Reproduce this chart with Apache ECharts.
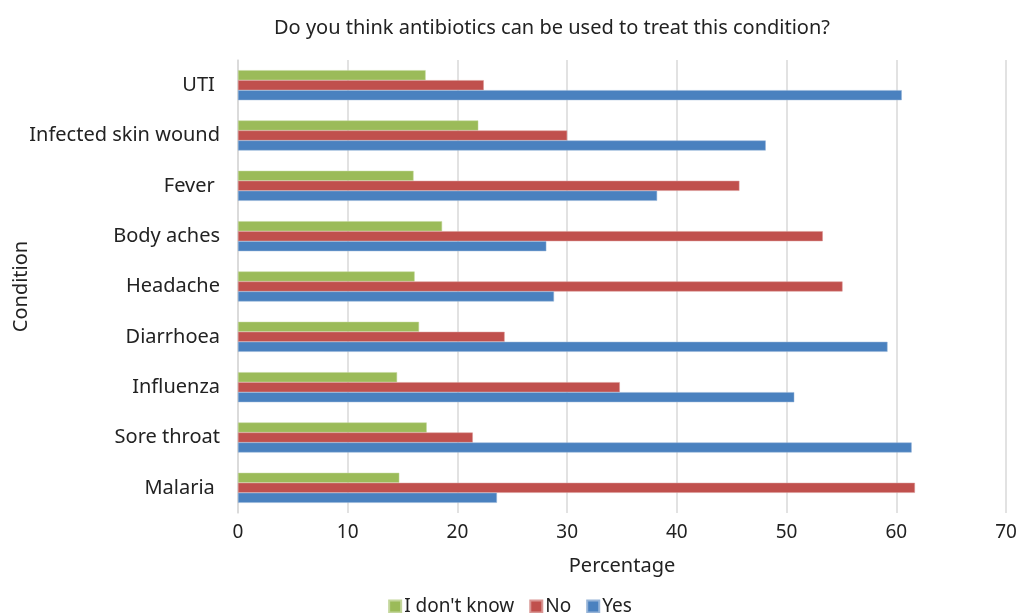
<!DOCTYPE html>
<html>
<head>
<meta charset="utf-8">
<script src="https://cdn.jsdelivr.net/npm/echarts@6/dist/echarts.min.js"></script>
<style>
html,body{margin:0;padding:0;background:#fff;}
#chart{width:1020px;height:613px;}
</style>
</head>
<body>
<div id="chart"></div>
<script>
// Categories listed bottom to top (category axis runs upward)
const categories = ['Malaria ', 'Sore throat', 'Influenza', 'Diarrhoea', 'Headache', 'Body aches', 'Fever ', 'Infected skin wound', 'UTI '];
const dontKnow = [14.7, 17.2, 14.5, 16.5, 16.1, 18.6, 16.0, 21.9, 17.1];
const no = [61.7, 21.4, 34.8, 24.3, 55.1, 53.3, 45.7, 30.0, 22.4];
const yes = [23.6, 61.4, 50.7, 59.2, 28.8, 28.1, 38.2, 48.1, 60.5];
const xTicks = [0, 10, 20, 30, 40, 50, 60, 70];

const FONT = '"Noto Sans", "Open Sans", sans-serif';
const chart = echarts.init(document.getElementById('chart'));
chart.setOption({
  animation: false,
  textStyle: { fontFamily: FONT, color: '#222' },
  title: {
    text: 'Do you think antibiotics can be used to treat this condition?',
    left: 547, top: 13, textAlign: 'center',
    textStyle: { fontFamily: FONT, fontSize: 20, fontWeight: 'normal', color: '#222' }
  },
  legend: {
    top: 592, left: 'center',
    itemWidth: 12, itemHeight: 12, itemGap: 15,
    icon: 'rect',
    textStyle: { fontFamily: FONT, fontSize: 19, color: '#222', padding: [0, 0, 0, -2] },
    data: ["I don't know", 'No', 'Yes']
  },
  grid: { left: 238, right: 14, top: 60, bottom: 100, containLabel: false, outerBoundsMode: 'none' },
  xAxis: {
    type: 'value', min: xTicks[0], max: xTicks[xTicks.length - 1], interval: 10,
    name: 'Percentage', nameLocation: 'middle', nameGap: 43, nameMoveOverlap: false,
    nameTextStyle: { fontFamily: FONT, fontSize: 20, color: '#222' },
    axisLine: { show: false }, axisTick: { show: false },
    axisLabel: { fontFamily: FONT, fontSize: 19, color: '#222', margin: 10 },
    splitLine: { show: true, lineStyle: { color: '#d9d9d9', width: 1.5 } }
  },
  yAxis: {
    type: 'category', data: categories,
    name: 'Condition', nameLocation: 'middle', nameGap: 207, nameRotate: 90, nameMoveOverlap: false,
    nameTextStyle: { fontFamily: FONT, fontSize: 20, color: '#222' },
    axisLine: { show: true, lineStyle: { color: '#d9d9d9', width: 1.5 } },
    axisTick: { show: false },
    axisLabel: { fontFamily: FONT, fontSize: 20, color: '#222', margin: 18 }
  },
  series: [
    { name: "I don't know", type: 'bar', data: dontKnow, barWidth: 10, barGap: '0%',
      itemStyle: { color: '#9BBB59', borderColor: '#c3d69b', borderWidth: 0.5 } },
    { name: 'No', type: 'bar', data: no, barWidth: 10, barGap: '0%',
      itemStyle: { color: '#C0504D', borderColor: '#d99694', borderWidth: 0.5 } },
    { name: 'Yes', type: 'bar', data: yes, barWidth: 10, barGap: '0%',
      itemStyle: { color: '#4A81BF', borderColor: '#95b3d7', borderWidth: 0.5 } }
  ]
});
</script>
</body>
</html>
